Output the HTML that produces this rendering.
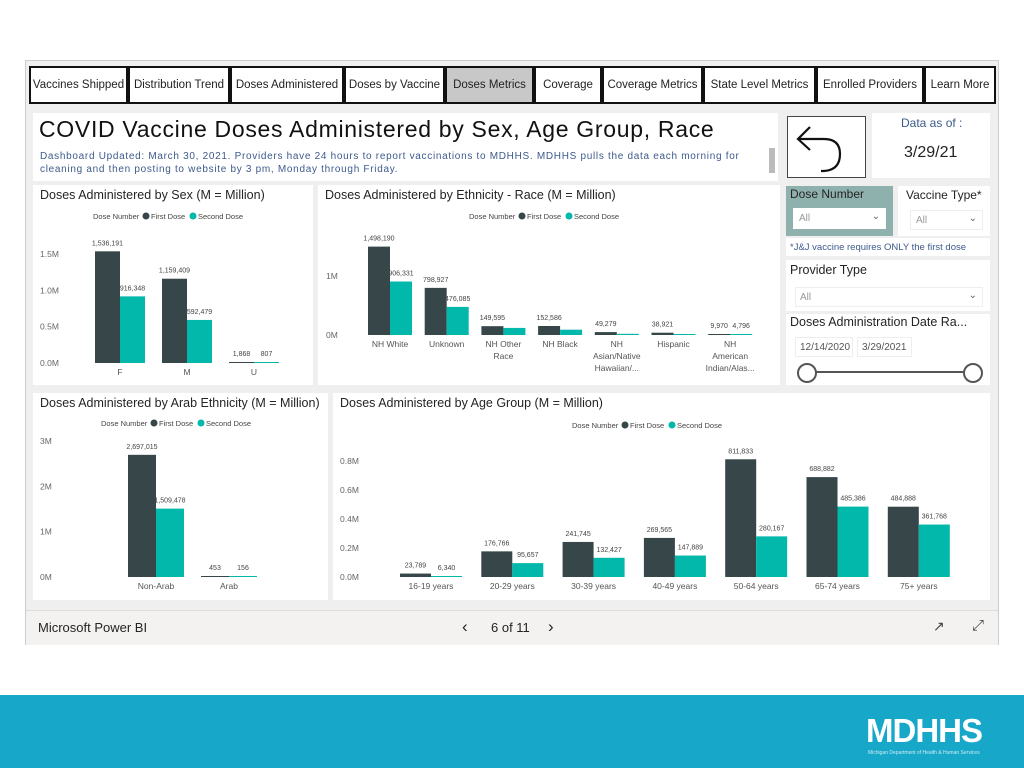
<!DOCTYPE html>
<html><head><meta charset="utf-8"><style>
body{margin:0;width:1024px;height:768px;background:#fff;font-family:"Liberation Sans",sans-serif;position:relative;overflow:hidden}
.a{position:absolute}
.tab{position:absolute;top:66px;height:38px;border:2px solid #111;background:#fff;font-size:11.5px;color:#222;display:flex;align-items:center;justify-content:center;box-sizing:border-box;white-space:nowrap}
.panel{position:absolute;background:#fff}
.t{position:absolute;white-space:nowrap;color:#252423}
svg text{font-family:"Liberation Sans",sans-serif}
</style></head><body>
<div class="a" style="left:25px;top:60px;width:974px;height:585px;background:#efefef;border:1px solid #ccc;box-sizing:border-box"></div>
<div class="tab" style="left:29px;width:99px">Vaccines Shipped</div>
<div class="tab" style="left:128px;width:102px">Distribution Trend</div>
<div class="tab" style="left:230px;width:114px">Doses Administered</div>
<div class="tab" style="left:344px;width:101px">Doses by Vaccine</div>
<div class="tab" style="left:445px;width:89px;background:#c8c8c8">Doses Metrics</div>
<div class="tab" style="left:534px;width:68px">Coverage</div>
<div class="tab" style="left:602px;width:101px">Coverage Metrics</div>
<div class="tab" style="left:703px;width:113px">State Level Metrics</div>
<div class="tab" style="left:816px;width:108px">Enrolled Providers</div>
<div class="tab" style="left:924px;width:72px">Learn More</div>

<div class="panel" style="left:33px;top:113px;width:745px;height:68px"></div>
<div class="t" style="left:39px;top:116px;font-size:23px;letter-spacing:0.7px;color:#111">COVID Vaccine Doses Administered by Sex, Age Group, Race</div>
<div class="t" style="left:40px;top:150px;font-size:10px;letter-spacing:0.7px;line-height:13px;color:#3d5a8c">Dashboard Updated: March 30, 2021. Providers have 24 hours to report vaccinations to MDHHS. MDHHS pulls the data each morning for<br>cleaning and then posting to website by 3 pm, Monday through Friday.</div>
<div class="a" style="left:769px;top:148px;width:6px;height:25px;background:#bbb"></div>

<div class="panel" style="left:787px;top:116px;width:79px;height:62px;border:1px solid #444;box-sizing:border-box">
<svg width="79" height="62"><path d="M10 22 L36 22 Q52 22 52 37 Q52 53 36 54 L33 54" fill="none" stroke="#111" stroke-width="2.2"/><path d="M22 10 L10 22 L22 33" fill="none" stroke="#111" stroke-width="2.2"/></svg></div>
<div class="panel" style="left:872px;top:113px;width:118px;height:65px"></div>
<div class="t" style="left:901px;top:116px;font-size:12px;color:#3d5a8c">Data as of :</div>
<div class="t" style="left:904px;top:144px;font-size:16px;color:#222">3/29/21</div>

<div class="a" style="left:786px;top:186px;width:107px;height:50px;background:#8fb1ad"></div>
<div class="t" style="left:790px;top:187px;font-size:12px">Dose Number</div>
<div class="a" style="left:793px;top:208px;width:93px;height:21px;background:#fff;font-size:10px;color:#999;box-sizing:border-box;padding:5px 6px">All<span style="position:absolute;right:6px;top:3px;color:#666">&#8964;</span></div>
<div class="panel" style="left:898px;top:186px;width:92px;height:50px"></div>
<div class="t" style="left:906px;top:188px;font-size:12px">Vaccine Type*</div>
<div class="a" style="left:910px;top:210px;width:73px;height:20px;background:#fff;font-size:10px;color:#999;border:1px solid #eee;box-sizing:border-box;padding:4px 5px">All<span style="position:absolute;right:5px;top:2px;color:#666">&#8964;</span></div>
<div class="panel" style="left:786px;top:238px;width:204px;height:18px"></div>
<div class="t" style="left:790px;top:242px;font-size:9.5px;color:#3d5a8c">*J&amp;J vaccine requires ONLY the first dose</div>
<div class="panel" style="left:786px;top:260px;width:204px;height:51px"></div>
<div class="t" style="left:790px;top:263px;font-size:12.5px">Provider Type</div>
<div class="a" style="left:795px;top:287px;width:188px;height:20px;background:#fff;font-size:10px;color:#999;border:1px solid #eee;box-sizing:border-box;padding:4px 4px">All<span style="position:absolute;right:5px;top:2px;color:#666">&#8964;</span></div>
<div class="panel" style="left:786px;top:314px;width:204px;height:71px"></div>
<div class="t" style="left:790px;top:315px;font-size:12.5px">Doses Administration Date Ra...</div>
<div class="a" style="left:795px;top:337px;width:58px;height:20px;border:1px solid #eee;font-size:10px;color:#555;box-sizing:border-box;padding:4px 4px">12/14/2020</div>
<div class="a" style="left:857px;top:337px;width:55px;height:20px;border:1px solid #eee;font-size:10px;color:#555;box-sizing:border-box;padding:4px 4px">3/29/2021</div>
<div class="a" style="left:806px;top:371px;width:167px;height:2px;background:#555"></div>
<div class="a" style="left:797px;top:363px;width:16px;height:16px;border:2px solid #555;border-radius:50%;background:#fff"></div>
<div class="a" style="left:963px;top:363px;width:16px;height:16px;border:2px solid #555;border-radius:50%;background:#fff"></div>

<svg id="charts" class="a" style="left:0;top:0" width="1024" height="768"></svg>

<div class="a" style="left:26px;top:610px;width:972px;height:34px;background:#f3f2f1;border-top:1px solid #ddd"></div>
<div class="t" style="left:38px;top:620px;font-size:13px">Microsoft Power BI</div>
<div class="t" style="left:462px;top:617px;font-size:17px">&#8249;</div>
<div class="t" style="left:491px;top:620px;font-size:13px">6 of 11</div>
<div class="t" style="left:548px;top:617px;font-size:17px">&#8250;</div>
<div class="t" style="left:933px;top:618px;font-size:14px;color:#444">&#8599;</div>
<div class="t" style="left:972px;top:617px;font-size:15px;color:#444">&#10530;</div>

<div class="a" style="left:0;top:695px;width:1024px;height:73px;background:#17a8c9"></div>
<div class="t" style="left:866px;top:712px;font-size:33px;color:#fff;font-weight:bold;letter-spacing:-1px">MDHHS</div>
<div class="t" style="left:868px;top:750px;font-size:5px;color:#cfeaf2">Michigan Department of Health &amp; Human Services</div>

<script>
const sexCats=["F","M","U"];
const sexFirst=[1536191,1159409,1868];
const sexSecond=[916348,592479,807];
const sexTicks=[0,0.5,1.0,1.5];
const ethCats=[["NH White"],["Unknown"],["NH Other","Race"],["NH Black"],["NH","Asian/Native","Hawaiian/..."],["Hispanic"],["NH","American","Indian/Alas..."]];
const ethFirst=[1498190,798927,149595,152586,49279,38921,9970];
const ethSecond=[906331,476085,120000,90000,20000,15000,4796];
const ethSecondLabels=["906,331","476,085","","","","","4,796"];
const ethTicks=[0,1];
const arabCats=["Non-Arab","Arab"];
const arabFirst=[2697015,453];
const arabSecond=[1509478,156];
const arabTicks=[0,1,2,3];
const ageCats=["16-19 years","20-29 years","30-39 years","40-49 years","50-64 years","65-74 years","75+ years"];
const ageFirst=[23789,176766,241745,269565,811833,688882,484888];
const ageSecond=[6340,95657,132427,147889,280167,485386,361768];
const ageTicks=[0,0.2,0.4,0.6,0.8];

const NS="http://www.w3.org/2000/svg";
const svg=document.getElementById('charts');
function el(tag,attrs,parent,txt){const e=document.createElementNS(NS,tag);for(const k in attrs)e.setAttribute(k,attrs[k]);if(txt!==undefined)e.textContent=txt;(parent||svg).appendChild(e);return e;}
function fmt(v){return v.toLocaleString('en-US');}
function chart(o){
  const g=el('g',{});
  
  
  const bg=el('rect',{x:o.px,y:o.py,width:o.pw,height:o.ph,fill:'#fff'},g);
  
  
  const tt=el('text',{x:o.px+7,y:o.py+14,'font-size':12.5,fill:'#252423'},g,o.title);
  
  
  const lg=el('g',{},g);
  
  
  let lx=o.legX;
  el('text',{x:lx,y:o.legY+3,'font-size':7.5,fill:'#444'},lg,'Dose Number');
  el('circle',{cx:lx+53,cy:o.legY,r:3.5,fill:'#374649'},lg);
  el('text',{x:lx+58,y:o.legY+3,'font-size':7.5,fill:'#444'},lg,'First Dose');
  el('circle',{cx:lx+100,cy:o.legY,r:3.5,fill:'#01B8AA'},lg);
  el('text',{x:lx+105,y:o.legY+3,'font-size':7.5,fill:'#444'},lg,'Second Dose');
  const y=v=>o.base-v/1e6*o.pxPerM;
  o.ticks.forEach(t=>{const tx=el('text',{x:o.axX,y:y(t*1e6)+3,'font-size':8.5,fill:'#666'},g,t.toFixed(o.dec)+'M');
    
    });
  o.cats.forEach((c,i)=>{
    const cx=o.x0+i*o.step;
    const f=o.first[i],s=o.second[i];
    const b1=el('rect',{x:cx,y:Math.min(y(f),o.base-1),width:o.bw,height:Math.max(o.base-y(f),1),fill:'#374649'},g);
    
    
    const b2=el('rect',{x:cx+o.bw,y:Math.min(y(s),o.base-1),width:o.bw,height:Math.max(o.base-y(s),1),fill:'#01B8AA'},g);
    
    
    el('text',{x:cx+o.bw/2,y:Math.min(y(f),o.base-1)-6,'font-size':7,fill:'#444','text-anchor':'middle'},g,fmt(f));
    const sl=o.secondLabels?o.secondLabels[i]:fmt(s);
    if(sl)el('text',{x:cx+o.bw*1.5,y:Math.min(y(s),o.base-1)-6,'font-size':7,fill:'#444','text-anchor':'middle'},g,sl);
    const lines=Array.isArray(c)?c:[c];
    lines.forEach((l,j)=>{const lt=el('text',{x:cx+o.bw,y:o.base+12+j*12,'font-size':8.5,fill:'#555','text-anchor':'middle'},g,l);
      
      });
  });
}
chart({name:'sex-chart',title:'Doses Administered by Sex (M = Million)',px:33,py:185,pw:280,ph:200,legX:93,legY:216,
  cats:sexCats,first:sexFirst,second:sexSecond,ticks:sexTicks,dec:1,base:363,pxPerM:72.7,axX:40,x0:95,step:67,bw:25});
chart({name:'ethnicity-chart',title:'Doses Administered by Ethnicity - Race (M = Million)',px:318,py:185,pw:462,ph:200,legX:469,legY:216,
  cats:ethCats,first:ethFirst,second:ethSecond,secondLabels:ethSecondLabels,ticks:ethTicks,dec:0,base:335,pxPerM:59,axX:326,x0:368,step:56.7,bw:22});
chart({name:'arab-chart',title:'Doses Administered by Arab Ethnicity (M = Million)',px:33,py:393,pw:295,ph:207,legX:101,legY:423,
  cats:arabCats,first:arabFirst,second:arabSecond,ticks:arabTicks,dec:0,base:577,pxPerM:45.3,axX:40,x0:128,step:73,bw:28});
chart({name:'age-chart',title:'Doses Administered by Age Group (M = Million)',px:333,py:393,pw:657,ph:207,legX:572,legY:425,
  cats:ageCats,first:ageFirst,second:ageSecond,ticks:ageTicks,dec:1,base:577,pxPerM:145,axX:340,x0:400,step:81.3,bw:31});
</script>
</body></html>
